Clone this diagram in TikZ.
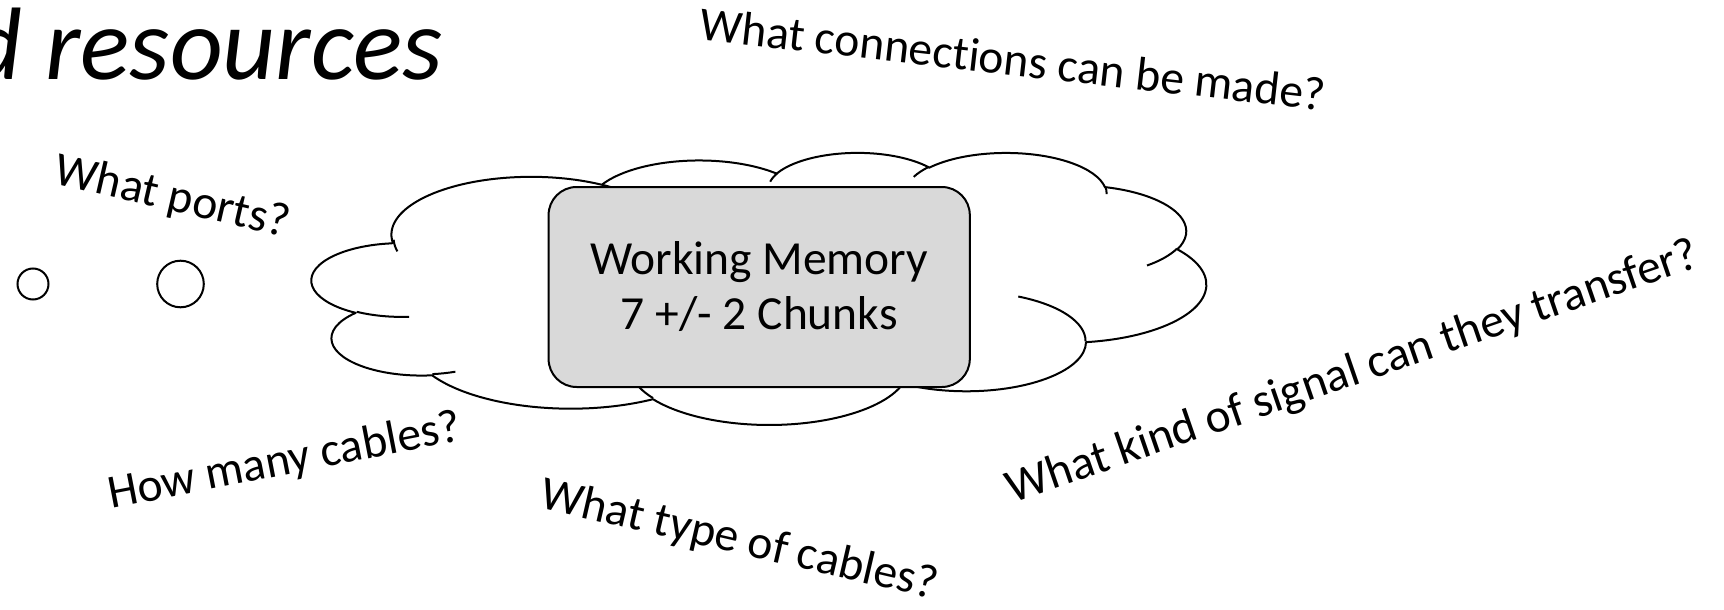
\documentclass[tikz,border=0pt]{standalone}
\usepackage{fontspec}
\setmainfont{Carlito}[Ligatures=NoCommon]
\definecolor{boxgray}{HTML}{D9D9D9}
% Elliptical arc of the cloud outline: radii and visual angles (y pointing down)
% are turned into a TikZ arc style with parametric start and end angles.
\newcommand\cloudarcstyle[5]{%
  \pgfmathsetmacro\oovs{#4}%
  \pgfmathsetmacro\oove{#4+#5}%
  \pgfmathsetmacro\oots{\oovs+mod(atan2(#2*sin(\oovs),#3*cos(\oovs))-\oovs+540,360)-180}%
  \pgfmathsetmacro\oote{\oove+mod(atan2(#2*sin(\oove),#3*cos(\oove))-\oove+540,360)-180}%
  \edef\oodefine{\noexpand\tikzset{#1/.style={start angle=\oots,end angle=\oote,x radius=#2pt,y radius=#3pt}}}%
  \oodefine}
% outer outline
\cloudarcstyle{oa1}{675.3}{919.0}{-190.48748}{123.78053}
\cloudarcstyle{oa2}{533.3}{726.7}{-144.10238}{89.94523}
\cloudarcstyle{oa3}{436.5}{594.5}{-145.80792}{99.72302}
\cloudarcstyle{oa4}{485.7}{659.5}{-130.98607}{117.24173}
\cloudarcstyle{oa5}{533.3}{727.3}{-78.70888}{109.02692}
\cloudarcstyle{oa6}{677.5}{922.0}{-46.26725}{130.269}
\cloudarcstyle{oa7}{578.5}{786.7}{0.62502}{114.03333}
\cloudarcstyle{oa8}{675.2}{921.5}{22.4516}{115.17255}
\cloudarcstyle{oa9}{772.0}{1054.3}{66.24263}{75.71102}
\cloudarcstyle{oa10}{436.0}{591.8}{-274.94208}{146.73557}
\cloudarcstyle{oa11}{434.5}{594.5}{-246.8285}{152.51885}
% inner creases
\cloudarcstyle{ia1}{434.5}{594.5}{86.742}{26.4295}
\cloudarcstyle{ia2}{436.0}{591.8}{73.61047}{11.44747}
\cloudarcstyle{ia3}{675.2}{921.5}{137.62415}{14.0811}
\cloudarcstyle{ia4}{675.2}{921.5}{6.45327}{15.99835}
\cloudarcstyle{ia5}{578.5}{786.7}{-70.29235}{70.91737}
\cloudarcstyle{ia6}{533.3}{727.3}{30.31803}{27.7515}
\cloudarcstyle{ia7}{485.7}{659.5}{-13.74433}{14.8589}
\cloudarcstyle{ia8}{485.7}{659.5}{-149.18145}{18.19537}
\cloudarcstyle{ia9}{436.5}{594.5}{-163.49427}{17.68635}
\cloudarcstyle{ia10}{675.3}{919.0}{-66.70695}{12.31935}
\cloudarcstyle{ia11}{675.3}{919.0}{162.03578}{15.60042}
\newcommand\qfont{\fontsize{23.75pt}{27.5pt}\selectfont}
\begin{document}
\begin{tikzpicture}[x=0.5pt,y=-0.5pt,
  outline/.style={draw=black,line width=1pt,line join=round},
  question/.style={font=\qfont,inner sep=0pt,text=black},
  port/.style={circle,draw=black,line width=1pt,fill=white,inner sep=0pt},
  membox/.style={draw=black,line width=1pt,fill=boxgray,rounded corners=14pt,
    minimum width=210.6pt,minimum height=100pt,align=center,font=\qfont,inner sep=0pt}]
\useasboundingbox (0,0) rectangle (1724,610);
\clip (0,0) rectangle (1724,610);

% heading, running in from the left edge
\node[font=\fontsize{51.5pt}{60pt}\selectfont\itshape,inner sep=0pt,anchor=base east]
  (title) at (443,80) {d resources};

% thought bubbles leading to the cloud
\node[port,minimum size=15.5pt] (portA) at (33,284) {};
\node[port,minimum size=23.3pt] (portB) at (180.5,284) {};

% cloud
\begin{scope}[shift={(312,152)},x=1pt,y=1pt,xscale=0.1034722,yscale=-0.0314815]
  \draw[outline,fill=white] (390,1437) arc[oa1] arc[oa2] arc[oa3] arc[oa4] arc[oa5]
    arc[oa6] arc[oa7] arc[oa8] arc[oa9] arc[oa10] arc[oa11] -- cycle;
  \draw[outline] (469.3,2617.7) arc[ia1];
  \draw[outline] (692.8,3489.9) arc[ia2];
  \draw[outline] (1647.8,3909.0) arc[ia3];
  \draw[outline] (2882.7,3475.1) arc[ia4];
  \draw[outline] (3412.9,2295.4) arc[ia5];
  \draw[outline] (4179.8,1535.4) arc[ia6];
  \draw[outline] (3832.4,542.6) arc[ia7];
  \draw[outline] (2907.8,395.2) arc[ia8];
  \draw[outline] (2214.1,472.0) arc[ia9];
  \draw[outline] (1400.0,519.2) arc[ia10];
  \draw[outline] (412.7,1578.9) arc[ia11];
\end{scope}

\node[membox] (memory) at (759.2,287) {Working Memory\\7 +/- 2 Chunks};

% questions around the cloud
\node[question,rotate=-6.5] (qconn) at (1013,59) {What connections can be made?};
\node[question,rotate=-13] (qports) at (172,198) {What ports?};
\node[question,rotate=11] (qhow) at (285,462) {How many cables?};
\node[question,rotate=-13] (qtype) at (739,541) {What type of cables?};
\node[question,rotate=19] (qsignal) at (1353,373) {What kind of signal can they transfer?};
\end{tikzpicture}
\end{document}
